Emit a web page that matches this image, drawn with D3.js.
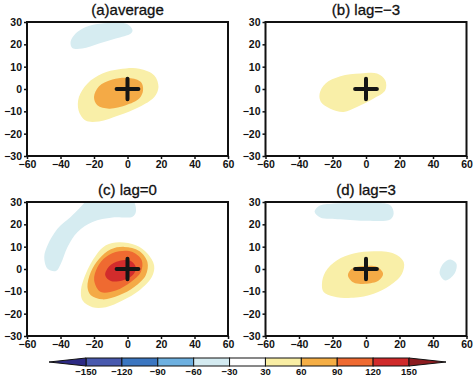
<!DOCTYPE html>
<html>
<head>
<meta charset="utf-8">
<script src="https://cdn.jsdelivr.net/npm/d3@7"></script>
<style>
  body { margin: 0; background: #fff; }
  svg { display: block; }
  text { font-family: "Liberation Sans", Arial, sans-serif; fill: #111; }
</style>
</head>
<body>
<svg id="chart" width="474" height="376"></svg>
<script>
// contour levels and fill colours (colorbar)
const levels = [-150, -120, -90, -60, -30, 30, 60, 90, 120, 150];
const levelColors = ["#2d2a84", "#4859ae", "#3b76c1", "#6db0e0", "#d4ebf1", "#ffffff",
                     "#f9eea4", "#f5ae45", "#ef6a31", "#d02a2a", "#8c1c20"];

const xTicks = [-60, -40, -20, 0, 20, 40, 60];
const yTicks = [-30, -20, -10, 0, 10, 20, 30];
const titles = ["(a)average", "(b) lag=\u22123", "(c) lag=0", "(d) lag=3"];

// contour outlines, [lon, lat]
// (a) average
const aNeg30 = [[-34,21],[-32,24],[-27,27],[-19,29],[-9,29.6],[0,29],[3,26.3],[2,24.9],[-7,22.6],[-17,20.4],[-27,18.1],[-33,18.4]];
const aPos30 = [[-29,-3.6],[-24,2.4],[-15,6.9],[-5,8.8],[7,9.1],[16,6.1],[18.5,0.9],[16,-3.6],[7,-8.1],[-5,-11.8],[-17,-14.5],[-25,-14.1],[-29.2,-9.6]];
const aPos60 = [[-20,-3.6],[-17,1.2],[-9,4.2],[1,4.9],[8,3.1],[9.3,-0.6],[7,-4.3],[-1,-7.3],[-11,-8.8],[-18,-7.3]];
// (b) lag=-3
const bPos30 = [[-27.7,-2.1],[-24.3,2.4],[-15.3,5.7],[-3.4,6.9],[6.6,6.9],[11.5,3.9],[11.5,-0.6],[4.6,-4.3],[-5.4,-8.1],[-13.3,-10.3],[-21.3,-8.8],[-26.9,-5.8]];
// (c) lag=0
const cNeg30 = [[-49.7,5.4],[-47.7,10.6],[-41.7,18.1],[-33.8,23.4],[-28.8,27.1],[-24,30.5],[-10,32],[3,31],[5,25.6],[3,23.4],[-8.9,23.1],[-20.9,21.1],[-29.8,16.6],[-35.8,9.9],[-39.8,2.4],[-42.7,-0.9],[-47.7,0.1]];
const cPos30 = [[-27.8,-9.6],[-24.9,-2.1],[-18.9,6.1],[-12.9,10.6],[-5,12],[5,10.6],[11.9,6.9],[15.9,1.6],[14.5,-3.6],[7,-9.6],[-3,-14.1],[-12.9,-17.1],[-20.9,-17.1],[-26.8,-14.1]];
const cPos60 = [[-23.9,-8.1],[-21.9,-1.3],[-16.9,4.6],[-9.9,8.8],[-2,9.9],[7,8.1],[11.9,3.1],[10.9,-2.8],[4,-8.1],[-5,-11.8],[-14.9,-13.6],[-21.9,-11.8]];
const cPos90 = [[-19.9,-5.1],[-17.9,0.9],[-12.9,5.4],[-5,7.9],[3,7.6],[8.5,3.9],[8,-1.3],[2,-5.8],[-7,-9.6],[-15.9,-10.3]];
const cPos120 = [[-13.3,-2.8],[-10.9,1.2],[-5,3.6],[2,3.6],[5,0.6],[3,-2.8],[-3,-5.1],[-9.9,-5.4]];
// (d) lag=3
const dNeg30a = [[-30.7,25.6],[-28.3,28.1],[-19.3,29.3],[0.6,29.6],[14.5,28.6],[16.5,24.9],[14.5,22.2],[0.6,21.6],[-15.3,22.3],[-27.3,23.1]];
const dNeg30b = [[44,-2.1],[46,2.4],[50.4,4.3],[54,2.4],[52.8,-2.1],[47.4,-5.1]];
const dPos30 = [[-26.3,-6.6],[-24.3,-1.3],[-17.3,3.9],[-7.4,6.9],[4.6,7.9],[16.5,6.9],[22.5,3.1],[21.5,-2.1],[14.5,-7.3],[4.6,-11.1],[-7.4,-12.9],[-19.3,-12.3],[-25.3,-10.3]];
const dPos60 = [[-10.8,-2.8],[-8.4,0.1],[-1.4,1.3],[6.6,0.9],[10.2,-2.1],[7.6,-5.1],[-0.4,-6.6],[-7.4,-6.1]];

const panelShapes = [
  [{level: -30, pts: aNeg30}, {level: 30, pts: aPos30}, {level: 60, pts: aPos60}],
  [{level: 30, pts: bPos30}],
  [{level: -30, pts: cNeg30}, {level: 30, pts: cPos30}, {level: 60, pts: cPos60}, {level: 90, pts: cPos90}, {level: 120, pts: cPos120}],
  [{level: -30, pts: dNeg30a}, {level: -30, pts: dNeg30b}, {level: 30, pts: dPos30}, {level: 60, pts: dPos60}]
];

// colour for a shape: the band just inside its level
function fillFor(level) {
  const i = levels.indexOf(level);
  return level < 0 ? levelColors[i] : levelColors[i + 1];
}
const plotFill = {"-30": "#d6ecf1", "30": "#f9efa8", "60": "#f4aa46", "90": "#ef6a31", "120": "#d22c2c"};

const fmt = d => d < 0 ? "\u2212" + Math.abs(d) : d;

const svg = d3.select("#chart");
const pw = 201, ph = 134;
const origins = [[27, 22], [265.5, 22], [27, 202], [265.5, 202]];

origins.forEach(([ox, oy], k) => {
  const x = d3.scaleLinear().domain([-60, 60]).range([0, pw]);
  const y = d3.scaleLinear().domain([-30, 30]).range([ph, 0]);
  const g = svg.append("g").attr("transform", `translate(${ox},${oy})`);

  g.append("clipPath").attr("id", "clip" + k)
    .append("rect").attr("width", pw).attr("height", ph);

  const line = d3.line()
    .x(d => x(d[0])).y(d => y(d[1]))
    .curve(d3.curveCatmullRomClosed.alpha(0.5));

  g.append("g").attr("clip-path", `url(#clip${k})`)
    .selectAll("path")
    .data(panelShapes[k])
    .join("path")
      .attr("d", d => line(d.pts))
      .attr("fill", d => plotFill[d.level] || fillFor(d.level));

  // plus marker at the origin
  g.append("path")
    .attr("d", `M${x(-6.5)},${y(0)}H${x(6.5)}M${x(0)},${y(4.6)}V${y(-4.6)}`)
    .attr("stroke", "#151515").attr("stroke-width", 4).attr("stroke-linecap", "round");

  g.append("rect").attr("width", pw).attr("height", ph)
    .attr("fill", "none").attr("stroke", "#111").attr("stroke-width", 2);

  const xAxis = g.append("g").attr("transform", `translate(0,${ph})`)
    .call(d3.axisBottom(x).tickValues(xTicks).tickSize(3).tickPadding(2).tickFormat(fmt));
  const yAxis = g.append("g")
    .call(d3.axisLeft(y).tickValues(yTicks).tickSize(3).tickPadding(2).tickFormat(fmt));
  [xAxis, yAxis].forEach(a => {
    a.select(".domain").remove();
    a.selectAll("line").attr("stroke", "#111").attr("stroke-width", 1.5);
    a.selectAll("text").attr("font-size", 10.5).attr("font-weight", "bold")
      .attr("font-family", "Liberation Sans, Arial, sans-serif").attr("fill", "#111");
  });

  g.append("text")
    .attr("x", pw / 2).attr("y", -7)
    .attr("text-anchor", "middle")
    .attr("font-size", 15)
    .attr("stroke", "#111").attr("stroke-width", 0.3)
    .text(titles[k]);
});

// colorbar
const cb = svg.append("g");
const cx = d3.scalePoint().domain(levels).range([86, 409]);
const cbTop = 358, cbH = 8, tri = 37;
const boxes = d3.pairs(levels);
cb.selectAll("rect.box")
  .data(boxes)
  .join("rect")
    .attr("class", "box")
    .attr("x", d => cx(d[0])).attr("y", cbTop)
    .attr("width", d => cx(d[1]) - cx(d[0])).attr("height", cbH)
    .attr("fill", (d, i) => levelColors[i + 1])
    .attr("stroke", "#111").attr("stroke-width", 1);
cb.append("path")
  .attr("d", `M${cx(levels[0])},${cbTop}L${cx(levels[0]) - tri},${cbTop + cbH / 2}L${cx(levels[0])},${cbTop + cbH}Z`)
  .attr("fill", levelColors[0]).attr("stroke", "#111").attr("stroke-width", 1);
const last = cx(levels[levels.length - 1]);
cb.append("path")
  .attr("d", `M${last},${cbTop}L${last + tri},${cbTop + cbH / 2}L${last},${cbTop + cbH}Z`)
  .attr("fill", levelColors[levelColors.length - 1]).attr("stroke", "#111").attr("stroke-width", 1);
cb.selectAll("text")
  .data(levels)
  .join("text")
    .attr("x", d => cx(d)).attr("y", 375)
    .attr("text-anchor", "middle")
    .attr("font-size", 9.5).attr("font-weight", "bold")
    .text(fmt);
</script>
</body>
</html>
